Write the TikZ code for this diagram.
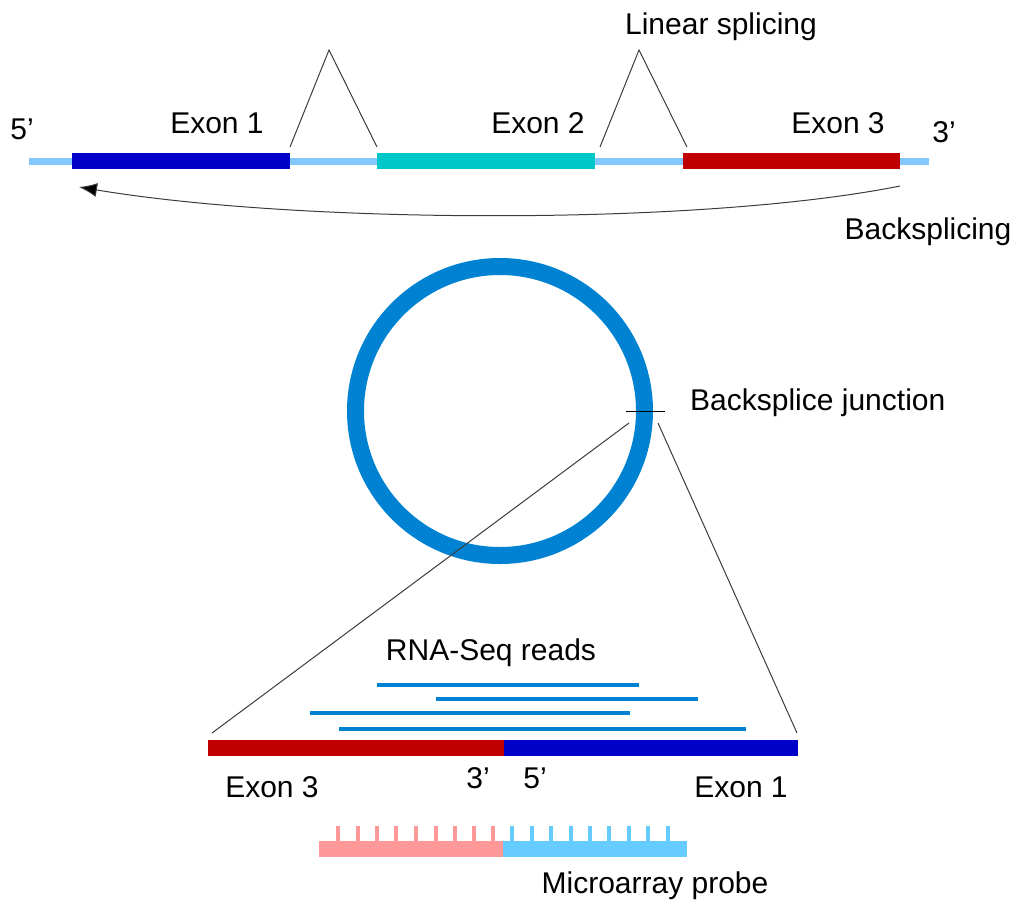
\documentclass[tikz,border=0pt]{standalone}
\usepackage{fontspec}
\setmainfont{Liberation Sans}
\usetikzlibrary{arrows.meta}
\definecolor{intron}{RGB}{128,200,255}
\definecolor{exonA}{RGB}{0,0,200}
\definecolor{exonB}{RGB}{0,200,200}
\definecolor{exonC}{RGB}{192,0,0}
\definecolor{ringblue}{RGB}{0,130,210}
\definecolor{probered}{RGB}{255,153,153}
\definecolor{probeblue}{RGB}{102,204,255}
\definecolor{thinline}{RGB}{60,60,60}
\newcommand{\prm}{\char"0027}
\tikzset{
  lbl/.style={anchor=base, inner sep=0pt, font=\fontsize{30}{34}\selectfont},
  bar/.style={rectangle, inner sep=0pt, minimum height=16pt, draw=none},
  guide/.style={draw=thinline, line width=1pt},
  readline/.style={draw=ringblue, line width=4pt},
  tooth/.style={line width=3.5pt},
}
\begin{document}
\begin{tikzpicture}[x=1pt, y=-1pt]
\useasboundingbox (0,0) rectangle (1022,903);

% --- linear pre-mRNA ---
\coordinate (s5) at (29,161);
\coordinate (s3) at (929,161);
\draw[intron, line width=7pt] (s5) -- (s3);
\node[bar, fill=exonA, minimum width=218pt] (ex1) at (181,161) {};
\node[bar, fill=exonB, minimum width=218pt] (ex2) at (486,161) {};
\node[bar, fill=exonC, minimum width=217pt] (ex3) at (791.5,161) {};

\node[lbl] (p5) at (22,139) {5\prm};
\node[lbl] (l1) at (217,133) {Exon 1};
\node[lbl] (l2) at (538,133) {Exon 2};
\node[lbl] (l3) at (838,133) {Exon 3};
\node[lbl] (p3) at (944,142) {3\prm};

% linear splicing arches
\coordinate (a1) at (290,147);
\coordinate (t1) at (329,50);
\coordinate (b1) at (377,147);
\coordinate (a2) at (600,147);
\coordinate (t2) at (639,50);
\coordinate (b2) at (687,147);
\draw[guide] (a1) -- (t1) -- (b1);
\draw[guide] (a2) -- (t2) -- (b2);
\node[lbl] (linsp) at (721,34) {Linear splicing};

% backsplicing arrow
\coordinate (bsA) at (900,186);
\coordinate (bsB) at (79,187);
\draw[guide, -{Latex[length=18pt, width=14pt, fill=black]}] (bsA) .. controls (700,226) and (300,224) .. (bsB);
\node[lbl] (bsp) at (928,239) {Backsplicing};

% --- circular RNA ---
\node[circle, draw=ringblue, line width=17pt, minimum size=289pt, inner sep=0pt] (ring) at (500,411) {};
\coordinate (jL) at (626,411);
\coordinate (jR) at (665,411);
\draw[draw=black, line width=1pt] (jL) -- (jR);
\node[lbl, anchor=base west] (bsj) at (690,410) {Backsplice junction};

% zoom lines
\coordinate (zA) at (629,423);
\coordinate (zB) at (658,423);
\coordinate (zC) at (212,733);
\coordinate (zD) at (797,733);
\draw[guide] (zA) -- (zC);
\draw[guide] (zB) -- (zD);

% --- junction detail ---
\node[lbl] (rnaseq) at (491,660) {RNA-Seq reads};
\coordinate (r1a) at (377,685); \coordinate (r1b) at (639,685);
\coordinate (r2a) at (436,699); \coordinate (r2b) at (698,699);
\coordinate (r3a) at (310,713); \coordinate (r3b) at (630,713);
\coordinate (r4a) at (339,729); \coordinate (r4b) at (746,729);
\draw[readline] (r1a) -- (r1b);
\draw[readline] (r2a) -- (r2b);
\draw[readline] (r3a) -- (r3b);
\draw[readline] (r4a) -- (r4b);

\node[bar, fill=exonC, minimum width=296pt] (j3) at (356,748) {};
\node[bar, fill=exonA, minimum width=294pt] (j1) at (651,748) {};
\node[lbl] (jl3) at (272,797) {Exon 3};
\node[lbl] (jp3) at (478,788) {3\prm};
\node[lbl] (jp5) at (535,788) {5\prm};
\node[lbl] (jl1) at (741,797) {Exon 1};

% --- microarray probe ---
\node[bar, fill=probered, minimum width=184pt] (pr) at (411,849) {};
\node[bar, fill=probeblue, minimum width=184pt] (pb) at (595,849) {};
\foreach \x in {338,358,377,396,416,436,455,474,493}
  \draw[tooth, probered] (\x,826) -- (\x,842);
\foreach \x in {512,532,551,571,590,609,629,648,668}
  \draw[tooth, probeblue] (\x,826) -- (\x,842);
\node[lbl] (mp) at (655,893) {Microarray probe};
\end{tikzpicture}
\end{document}
